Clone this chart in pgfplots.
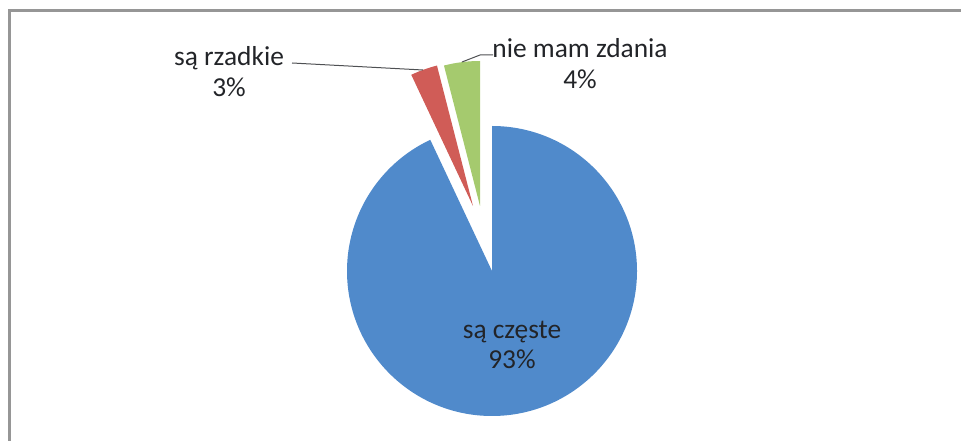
\documentclass[border=0pt]{standalone}
\usepackage{pgfplots}
\pgfplotsset{compat=1.18}
\usepackage{pgfplotstable}
\usepackage{fontspec}
\setmainfont{Carlito}
\definecolor{pieblue}{RGB}{80,138,203}
\definecolor{piered}{RGB}{208,92,87}
\definecolor{piegreen}{RGB}{165,202,110}
\definecolor{txt}{RGB}{34,36,40}
\definecolor{frame}{RGB}{150,150,150}

\pgfplotstableread{
label value dx dy
czeste 93 0 0
rzadkie 3 -19 65
zdania 4 -12 65
}\piedata

\begin{document}
\begin{tikzpicture}
\pgfplotstablegetelem{0}{value}\of\piedata \pgfmathsetmacro\vA{\pgfplotsretval}
\pgfplotstablegetelem{1}{value}\of\piedata \pgfmathsetmacro\vB{\pgfplotsretval}
\pgfplotstablegetelem{2}{value}\of\piedata \pgfmathsetmacro\vC{\pgfplotsretval}
\pgfplotstablegetelem{1}{dx}\of\piedata \pgfmathsetmacro\dxB{\pgfplotsretval}
\pgfplotstablegetelem{1}{dy}\of\piedata \pgfmathsetmacro\dyB{\pgfplotsretval}
\pgfplotstablegetelem{2}{dx}\of\piedata \pgfmathsetmacro\dxC{\pgfplotsretval}
\pgfplotstablegetelem{2}{dy}\of\piedata \pgfmathsetmacro\dyC{\pgfplotsretval}
\pgfmathsetmacro\aA{90}
\pgfmathsetmacro\aB{\aA-3.6*\vA}
\pgfmathsetmacro\aC{\aB-3.6*\vB}
\pgfmathsetmacro\aD{\aC-3.6*\vC}
\def\cx{492}\def\cy{170}\def\R{145}
\pgfmathsetmacro\xB{\cx+\dxB}
\pgfmathsetmacro\yB{\cy+\dyB}
\pgfmathsetmacro\xC{\cx+\dxC}
\pgfmathsetmacro\yC{\cy+\dyC}
\begin{axis}[width=961bp, height=441bp, scale only axis,
  xmin=0, xmax=961, ymin=0, ymax=441, axis lines=none, clip=false,
  xtick=\empty, ytick=\empty]
\coordinate (bl) at (axis cs:0,0);
\coordinate (tr) at (axis cs:961,441);
\fill[pieblue] (axis cs:\cx,\cy) -- ++(\aA:\R bp) arc[start angle=\aA, end angle=\aB, radius=\R bp] -- cycle;
\fill[piered] (axis cs:\xB,\yB) -- ++(\aB:\R bp) arc[start angle=\aB, end angle=\aC, radius=\R bp] -- cycle;
\fill[piegreen] (axis cs:\xC,\yC) -- ++(\aC:\R bp) arc[start angle=\aC, end angle=\aD, radius=\R bp] -- cycle;
\draw[frame, line width=3bp] (axis cs:9,0) -- (axis cs:9,430.5) -- (axis cs:961,430.5);
\draw[txt!80, line width=1bp] (axis cs:292,378) -- (axis cs:423,371);
\draw[txt!80, line width=1bp] (axis cs:462,379) -- (axis cs:480,386) -- (axis cs:493,386);
\node[txt, align=center, font=\fontsize{27.5}{31}\selectfont] at (axis cs:229,369) {są rzadkie\\3\%};
\node[txt, align=center, font=\fontsize{27.5}{31}\selectfont] at (axis cs:580,377) {nie mam zdania\\4\%};
\node[txt, align=center, font=\fontsize{27.5}{31}\selectfont] at (axis cs:512,96) {są częste\\93\%};
\end{axis}
\pgfresetboundingbox
\path[use as bounding box] (bl) rectangle (tr);
\end{tikzpicture}
\end{document}
